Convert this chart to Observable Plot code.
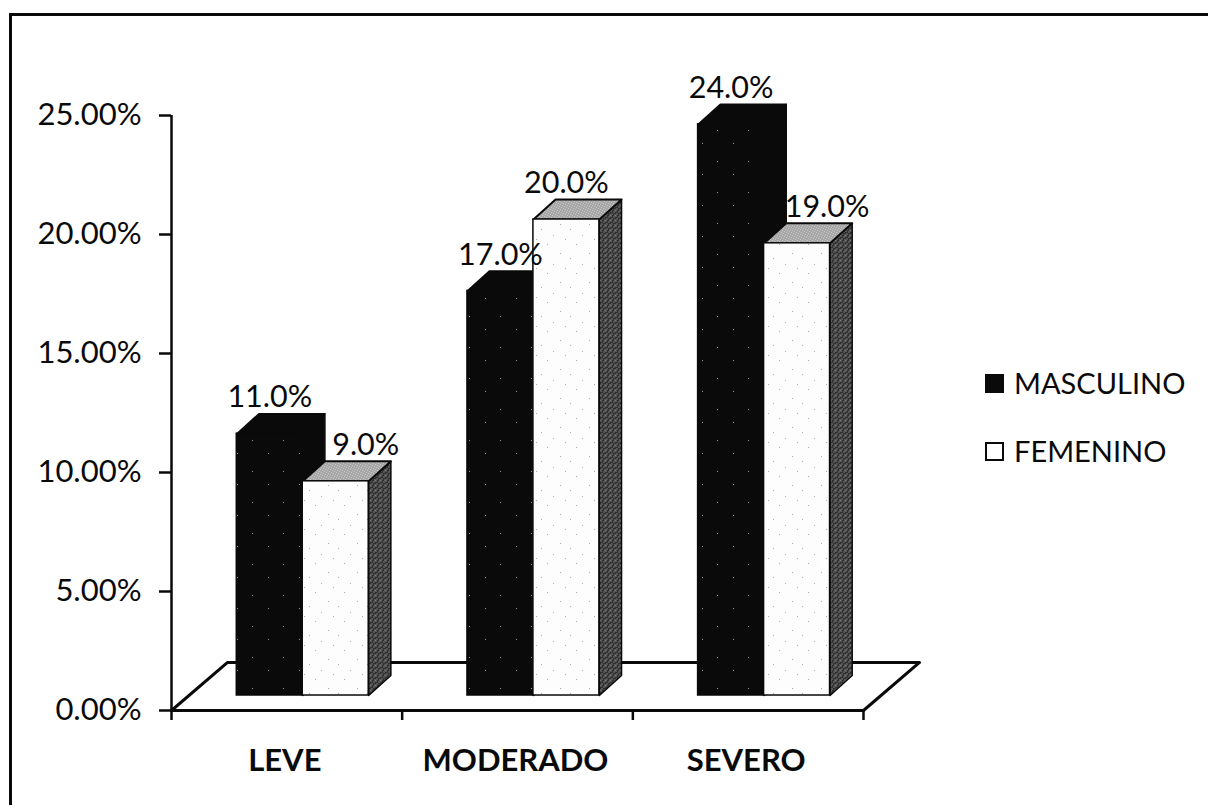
<!DOCTYPE html>
<html><head><meta charset="utf-8">
<script src="https://cdn.jsdelivr.net/npm/d3@7"></script>
<script src="https://cdn.jsdelivr.net/npm/@observablehq/plot@0.6"></script>
<style>
html,body{margin:0;padding:0;background:#fff;overflow:hidden}
#wrap{position:relative;width:1208px;height:808px;font-family:Lato,sans-serif;color:#0a0a0a}
#frame{position:absolute;left:9px;top:13px;right:0;bottom:3px;border-left:3px solid #0a0a0a;border-top:3px solid #0a0a0a}
#chart{position:absolute;left:0;top:0}
.leg{position:absolute;left:985px;display:flex;align-items:center;font-size:29px;line-height:30px;height:30px}
.leg i{display:inline-block;flex:none;width:15px;height:15px;border:2.5px solid #0a0a0a;margin-right:10px}
</style></head><body>
<div id="wrap"><div id="frame"></div><div id="chart"></div>
<div class="leg" style="top:368px"><i style="background:#0a0a0a"></i>MASCULINO</div>
<div class="leg" style="top:436px"><i style="background:#fff"></i>FEMENINO</div>
</div>
<script>
const categories = ["LEVE", "MODERADO", "SEVERO"];
const series = ["MASCULINO", "FEMENINO"];
const masculino = [11, 17, 24];
const femenino = [9, 20, 19];
const yTicks = [0, 5, 10, 15, 20, 25];

// geometry in data units (x: one category = 1; y: percentage points)
const barStart = 0.283, barW = 0.286, depthX = 0.096, depthY = 0.84, lift = 0.63;
const floorX = 0.243, floorY = 2.02;

const bars = [];
categories.forEach((c, i) => series.forEach((s, j) => {
  const v = (j === 0 ? masculino : femenino)[i];
  const other = (j === 0 ? femenino : masculino)[i];
  const x1 = i + barStart + j * barW, x2 = x1 + barW;
  bars.push({c, s, j, v, x1, x2, y1: lift, y2: v + lift, shifted: j === 1 && v < other});
}));
const poly = (type, pts, b) => pts.map(([x, y]) => ({x, y, id: b.c + b.s + type, j: b.j}));
const tops = bars.flatMap(b => poly("top", [[b.x1,b.y2],[b.x1+depthX,b.y2+depthY],[b.x2+depthX,b.y2+depthY],[b.x2,b.y2]], b));
const sides = bars.flatMap(b => poly("side", [[b.x2,b.y1],[b.x2+depthX,b.y1+depthY],[b.x2+depthX,b.y2+depthY],[b.x2,b.y2]], b));
const floor = [[0,0],[floorX,floorY],[3+floorX,floorY],[3,0]].map(([x,y]) => ({x,y}));

// drawn series by series so that FEMENINO overlaps MASCULINO
const barMarks = [0, 1].flatMap(j => [
  Plot.line(sides.filter(d => d.j === j), {x:"x", y:"y", z:"id", fill: j ? "url(#sideTex)" : "#0a0a0a", stroke:"#0a0a0a", strokeWidth:1.5, curve:"linear-closed"}),
  Plot.line(tops.filter(d => d.j === j), {x:"x", y:"y", z:"id", fill: j ? "url(#topTex)" : "#0a0a0a", stroke:"#0a0a0a", strokeWidth:j ? 2 : 1.5, curve:"linear-closed"}),
  Plot.rectY(bars.filter(b => b.j === j), {x1:"x1", x2:"x2", y1:"y1", y2:"y2", fill: j ? "url(#whiteTex)" : "url(#blackTex)", stroke: "#0a0a0a", strokeWidth:1.5})
]);
const valueText = {x: d => (d.x1 + d.x2) / 2, y: d => d.y2 + depthY, text: d => d.v.toFixed(1) + "%", dy: -16, fontSize: 30.5, fill:"#0a0a0a"};

const plot = Plot.plot({
  width: 1208, height: 808,
  marginLeft: 171, marginRight: 345, marginTop: 115, marginBottom: 98,
  style: {fontFamily: "Lato, sans-serif", background: "transparent", color: "#0a0a0a", overflow: "visible"},
  x: {domain: [0, 3], axis: null},
  y: {domain: [0, 25], axis: null},
  marks: [
    Plot.line(floor, {x:"x", y:"y", stroke:"#0a0a0a", strokeWidth:3}),
    ...barMarks,
    Plot.ruleX([0], {y1:0, y2:25, stroke:"#0a0a0a", strokeWidth:2.5}),
    Plot.ruleY([0], {x1:0, x2:3, stroke:"#0a0a0a", strokeWidth:3}),
    Plot.axisY({ticks: yTicks, tickSize: 12, tickPadding: 18, fontSize: 31, tickFormat: d => d.toFixed(2) + "%", label: null, stroke:"#0a0a0a", strokeWidth:2.5, fill:"#0a0a0a"}),
    Plot.axisX({ticks: [0,1,2,3], tickSize: 10, tickFormat: () => "", label: null, stroke:"#0a0a0a", strokeWidth:2.5}),
    Plot.text(categories, {x: (d,i) => i + 0.5 , y: 0, text: d => d, dx: -2, dy: 51, fontSize: 31, fontWeight: 700, fill:"#0a0a0a"}),
    Plot.text(bars.filter(b => !b.shifted), valueText),
    Plot.text(bars.filter(b => b.shifted), {...valueText, dx: 30})
  ]
});
// stipple textures for the scanned-looking faces of the bars
const defs = d3.select(plot).insert("defs", ":first-child");
const tex = (id, size, base, dot, pts) => {
  const p = defs.append("pattern").attr("id", id).attr("width", size).attr("height", size).attr("patternUnits", "userSpaceOnUse");
  p.append("rect").attr("width", size).attr("height", size).attr("fill", base);
  pts.forEach(([x,y]) => p.append("rect").attr("x", x).attr("y", y).attr("width", 1).attr("height", 1).attr("fill", dot));
};
tex("sideTex", 5, "#303030", "#c4c4c4", [[0,0],[3,1],[1,3],[4,4]]);
tex("topTex", 5, "#c8c8c8", "#444", [[0,0],[2,1],[4,2],[1,3],[3,4]]);
tex("whiteTex", 29, "#fdfdfd", "#aaa", [[2,3],[9,21],[14,7],[25,12],[19,26]]);
tex("blackTex", 31, "#0a0a0a", "#999", [[4,6],[20,19]]);
document.getElementById("chart").append(plot);
</script></body></html>
